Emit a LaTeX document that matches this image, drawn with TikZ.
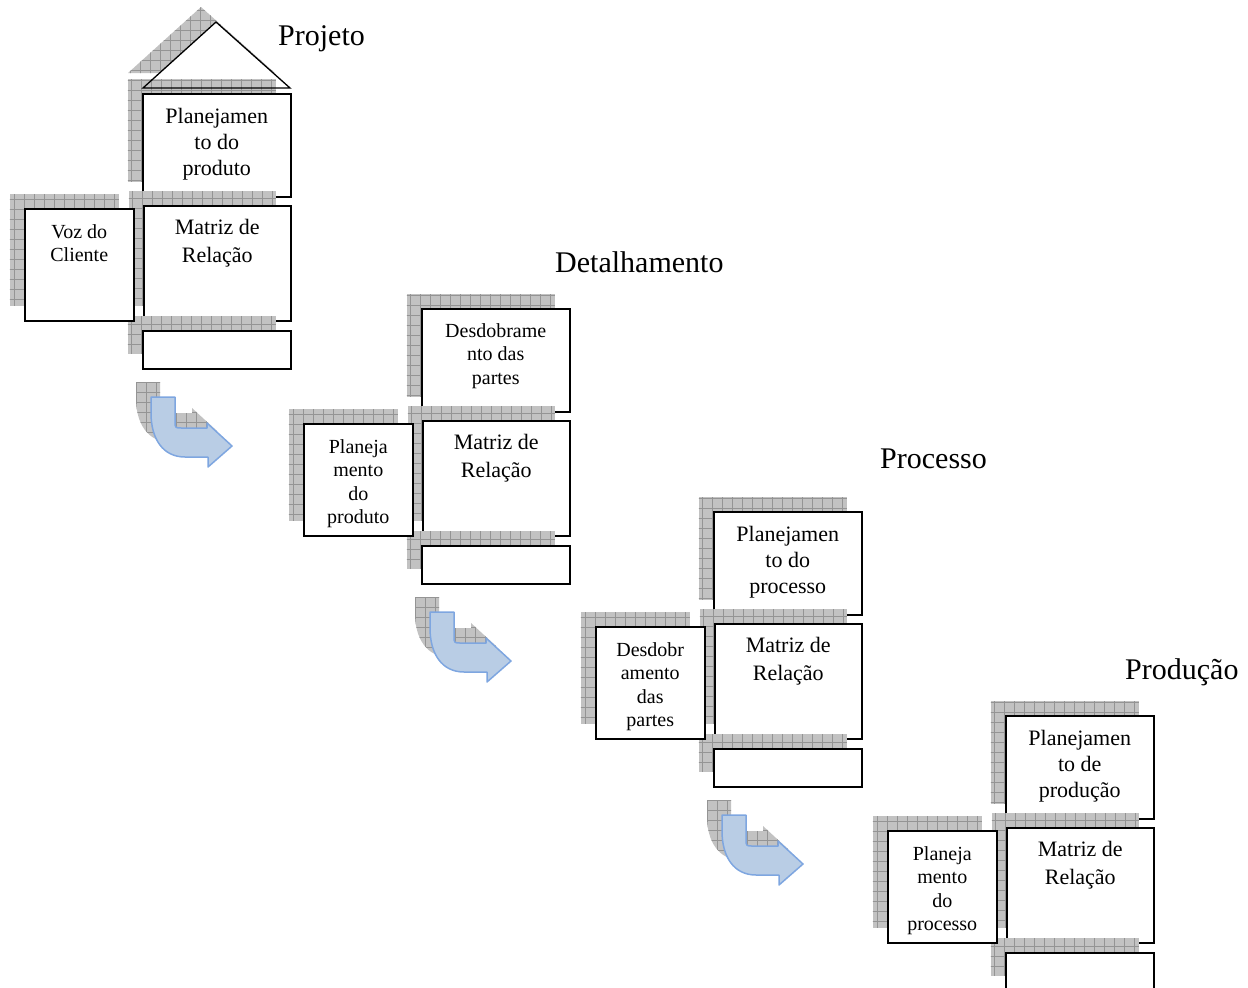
\documentclass[tikz,border=0pt]{standalone}
\usepackage{fontspec}
\setmainfont{Liberation Serif}
\usetikzlibrary{positioning,shadows}
\definecolor{arrowfillc}{HTML}{B9CDE5}
\definecolor{arrowline}{HTML}{7EA6E0}
\tikzset{
  shadowfill/.style={fill=black!24,
    path picture={\draw[black!42, line width=0.7pt]
      ([shift={(-5pt,-5pt)}]path picture bounding box.south west) grid[step=10pt]
      (path picture bounding box.north east);}},
  box/.style={draw, line width=1.5pt, fill=white, inner sep=0pt, anchor=north west,
    general shadow={shadowfill, shadow xshift=-15pt, shadow yshift=15pt}},
  bigtext/.style={inner sep=0pt, align=center, font=\fontsize{22}{26}\selectfont},
  smalltext/.style={inner sep=0pt, align=center, font=\fontsize{20}{23.5}\selectfont},
  matriztext/.style={inner sep=0pt, align=center, font=\fontsize{22}{28}\selectfont},
  titletext/.style={inner sep=0pt, anchor=base west, font=\fontsize{30}{36}\selectfont},
  arrowfill/.style={fill=arrowfillc, draw=arrowline, line width=1.5pt, line join=round},
  bendarrow/.pic={
    \path[pic actions] (0,0) -- (24,0) -- (24,24) .. controls (24,31) .. (31,31)
      -- (56,31) -- (56,26) -- (81,49) -- (57,70) -- (57,60) -- (34,60)
      .. controls (12,60) and (0,42) .. (0,16) -- cycle;
  }
}
\begin{document}
\begin{tikzpicture}[x=1pt,y=-1pt]
\useasboundingbox (0,0) rectangle (1248,988);
% telhado da primeira casa
\path[shadowfill] (128,73) -- (201,7) -- (275,73) -- cycle;
\fill[white] (143,88) -- (216,22) -- (290,88) -- cycle;
% as quatro casas
\foreach \i/\dx/\dy/\tstyle/\toptext/\lefttext in {
  1/0/0/bigtext/{Planejamen\\to do\\produto}/{Voz do\\Cliente},
  2/279/215/smalltext/{Desdobrame\\nto das\\partes}/{Planeja\\mento\\do\\produto},
  3/571/418/bigtext/{Planejamen\\to do\\processo}/{Desdobr\\amento\\das\\partes},
  4/863/622/bigtext/{Planejamen\\to de\\produção}/{Planeja\\mento\\do\\processo}}{
  \node[box, minimum width=148pt, minimum height=103pt] (top\i) at (142+\dx,93+\dy) {};
  \node[\tstyle, below=15pt of top\i.north] (toptxt\i) {\toptext};
  \node[box, minimum width=147pt, minimum height=115pt] (matriz\i) at (143+\dx,205+\dy) {};
  \node[matriztext, below=14pt of matriz\i.north] (matriztxt\i) {Matriz de\\Relação};
  \node[box, minimum width=148pt, minimum height=38pt] (base\i) at (142+\dx,330+\dy) {};
  \node[box, minimum width=109pt, minimum height=112pt] (left\i) at (24+\dx,208+\dy) {};
  \node[smalltext, below=16pt of left\i.north] (lefttxt\i) {\lefttext};
}
\draw[line width=1.3pt, line join=miter] (143,88) -- (216,22) -- (290,88) -- cycle;
% setas entre as casas
\foreach \dx/\dy in {0/0,279/215,571/418}{
  \pic[shadowfill] at (136+\dx,382+\dy) {bendarrow};
  \pic[arrowfill] at (151+\dx,397+\dy) {bendarrow};
}
\node[titletext] (title1) at (278,45) {Projeto};
\node[titletext] (title2) at (555,272) {Detalhamento};
\node[titletext] (title3) at (880,468) {Processo};
\node[titletext] (title4) at (1125,679) {Produção};
\end{tikzpicture}
\end{document}
